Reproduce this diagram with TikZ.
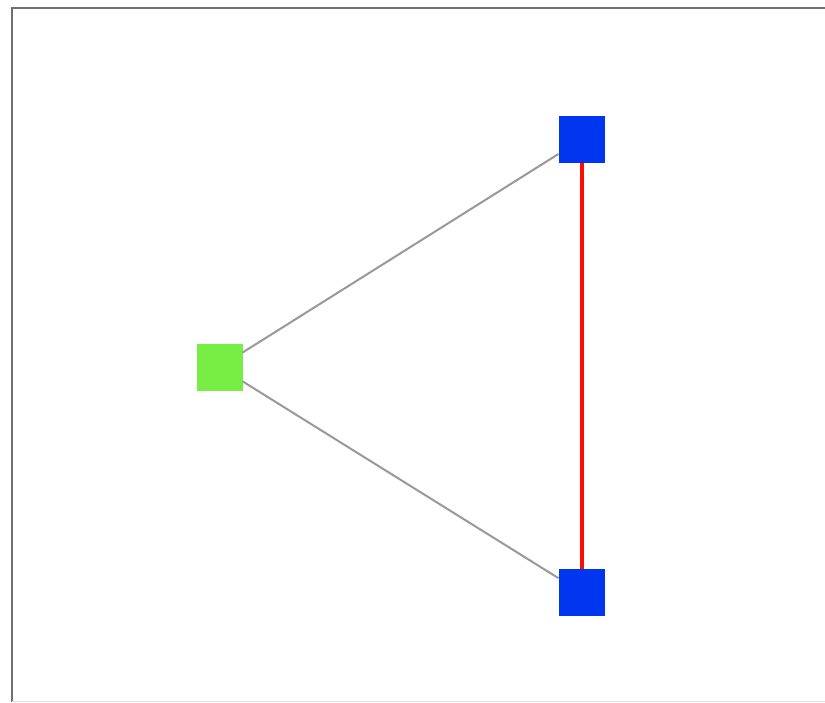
\documentclass[tikz,border=0pt]{standalone}
\begin{document}
\begin{tikzpicture}[x=1pt,y=-1pt,
  sq/.style={draw=none,minimum width=46pt,minimum height=47pt,inner sep=0pt,outer sep=0pt},
  edge/.style={draw=gray!80,line width=2pt},
  redge/.style={draw=red!90!orange,line width=4pt}]
\definecolor{nodegreen}{HTML}{77EE44}
\definecolor{nodeblue}{HTML}{0036F0}
\definecolor{framegray}{HTML}{707070}
\fill[white] (0,0) rectangle (825,702);
\useasboundingbox (0,0) rectangle (825,702);
\draw[framegray,line width=2pt] (12,702) -- (12,8) -- (825,8);
\draw[gray!25,line width=1pt] (12,701) -- (825,701);
\node[sq,fill=nodegreen] (g) at (219.5,367) {};
\node[sq,fill=nodeblue] (b1) at (581.5,139.5) {};
\node[sq,fill=nodeblue] (b2) at (581.5,592.5) {};
\draw[edge] (g) -- (b1);
\draw[edge] (g) -- (b2);
\draw[redge] (b1) -- (b2);
\end{tikzpicture}
\end{document}
